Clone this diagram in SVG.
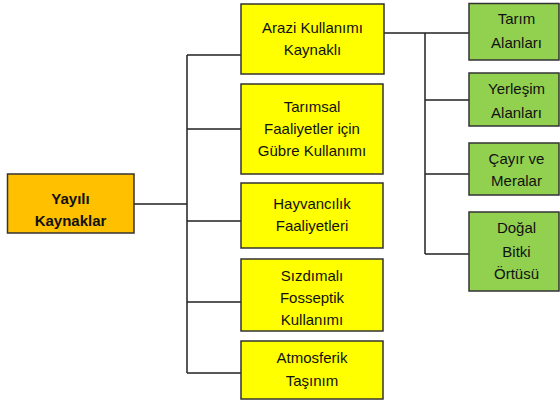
<svg xmlns="http://www.w3.org/2000/svg" width="560" height="403" viewBox="0 0 560 403">
<style>
.box{stroke:#333;stroke-width:1.5}
.root{fill:#FFC000}
.mid{fill:#FFFF00}
.leaf{fill:#92D050}
text{font-family:"Liberation Sans",Arial,sans-serif;font-size:15px;fill:#111;text-anchor:middle}
.b{font-weight:bold;font-size:15px}
.c{fill:none;stroke:#222;stroke-width:1.5}
</style>
<rect width="560" height="403" fill="#fff"/>
<g id="connectors">
<path class="c" d="M134,204H187M187,55V373M187,55H241M187,129H241M187,221H241M187,302H241M187,373H241"/>
<path class="c" d="M384,33H469M425,33V254M425,100H469M425,174H469M425,254H469"/>
</g>
<g id="yayili">
<rect class="box root" x="7.5" y="174" width="126.5" height="59"/>
<text class="b" x="70.5" y="204">Yayılı</text>
<text class="b" x="70.5" y="225.5">Kaynaklar</text>
</g>
<g id="arazi">
<rect class="box mid" x="241" y="4" width="143" height="70"/>
<text x="312.5" y="32.5">Arazi Kullanımı</text>
<text x="312.5" y="54.5">Kaynaklı</text>
</g>
<g id="tarimsal">
<rect class="box mid" x="241" y="84" width="142" height="90"/>
<text x="312" y="111.5">Tarımsal</text>
<text x="312" y="133.5">Faaliyetler için</text>
<text x="312" y="155.5">Gübre Kullanımı</text>
</g>
<g id="hayvancilik">
<rect class="box mid" x="241" y="183" width="142" height="65"/>
<text x="312" y="208.5">Hayvancılık</text>
<text x="312" y="230.5">Faaliyetleri</text>
</g>
<g id="sizdimali">
<rect class="box mid" x="241" y="259" width="142" height="72"/>
<text x="312" y="280.5">Sızdımalı</text>
<text x="312" y="302.5">Fosseptik</text>
<text x="312" y="324.5">Kullanımı</text>
</g>
<g id="atmosferik">
<rect class="box mid" x="241" y="341" width="142" height="58"/>
<text x="312" y="362.5">Atmosferik</text>
<text x="312" y="385.5">Taşınım</text>
</g>
<g id="tarim">
<rect class="box leaf" x="469" y="3.5" width="90" height="56.5"/>
<text x="516.5" y="23.5">Tarım</text>
<text x="516.5" y="47.5">Alanları</text>
</g>
<g id="yerlesim">
<rect class="box leaf" x="469" y="73" width="90" height="53"/>
<text x="516.5" y="93.5">Yerleşim</text>
<text x="516.5" y="117.5">Alanları</text>
</g>
<g id="cayir">
<rect class="box leaf" x="469" y="143" width="90" height="52"/>
<text x="516.5" y="163.5">Çayır ve</text>
<text x="516.5" y="185.5">Meralar</text>
</g>
<g id="dogal">
<rect class="box leaf" x="469" y="212" width="90" height="79"/>
<text x="516.5" y="232.5">Doğal</text>
<text x="516.5" y="256.5">Bitki</text>
<text x="516.5" y="278.5">Örtüsü</text>
</g>
</svg>
